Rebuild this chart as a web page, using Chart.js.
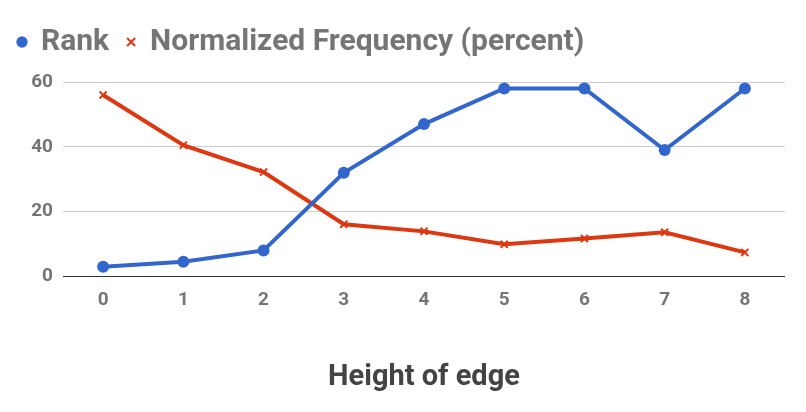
<!DOCTYPE html>
<html lang="en">
<head>
    <meta charset="UTF-8">
    <title>Height of edge</title>
    <style>
        body {
            margin: 0;
            background-color: #fff;
        }
        .chart-container {
            width: 806px;
            height: 412px;
        }
    </style>
    <script src="https://cdn.jsdelivr.net/npm/chart.js"></script>
</head>
<body>
    <div class="chart-container">
        <canvas id="lineChart"></canvas>
    </div>

    <script>
        // Data
        const heights = ['0', '1', '2', '3', '4', '5', '6', '7', '8'];
        const rank = [3, 4.5, 8, 32, 47, 58, 58, 39, 58];
        const normalizedFrequency = [56, 40.5, 32.2, 16.1, 13.9, 9.9, 11.7, 13.6, 7.4];

        const topPad = 9;

        // Make the legend block end exactly where the plot should start
        const legendHeight = {
            id: 'legendHeight',
            beforeInit(chart) {
                const fit = chart.legend.fit;
                chart.legend.fit = function() {
                    fit.bind(chart.legend)();
                    this.height = 82 - topPad;
                };
            }
        };

        const ctx = document.getElementById('lineChart').getContext('2d');

        new Chart(ctx, {
            type: 'line',
            data: {
                labels: heights,
                datasets: [{
                    label: 'Rank',
                    data: rank,
                    borderColor: '#3366cc',
                    backgroundColor: '#3366cc',
                    borderWidth: 4,
                    pointStyle: 'circle',
                    pointRadius: 6,
                    pointBorderWidth: 0
                }, {
                    label: 'Normalized Frequency (percent)',
                    data: normalizedFrequency,
                    borderColor: '#dc3912',
                    backgroundColor: '#dc3912',
                    borderWidth: 4,
                    pointStyle: 'crossRot',
                    pointRadius: 5,
                    pointBorderWidth: 2
                }]
            },
            plugins: [legendHeight],
            options: {
                responsive: true,
                maintainAspectRatio: false,
                animation: false,
                layout: {
                    padding: { left: 0, right: 21, top: topPad, bottom: 17 }
                },
                plugins: {
                    legend: {
                        position: 'top',
                        align: 'start',
                        labels: {
                            usePointStyle: true,
                            boxWidth: 8,
                            boxHeight: 8,
                            padding: 18,
                            color: '#757575',
                            font: { family: 'Roboto', size: 30, weight: 'bold' }
                        }
                    },
                    tooltip: { enabled: false }
                },
                scales: {
                    x: {
                        offset: true,
                        grid: { display: false, drawTicks: false },
                        border: { display: false },
                        ticks: {
                            color: '#757575',
                            padding: 12,
                            font: { family: 'Roboto', size: 19, weight: 'bold' }
                        },
                        title: {
                            display: true,
                            text: 'Height of edge',
                            color: '#444',
                            padding: { top: 37, bottom: 0 },
                            font: { family: 'Roboto', size: 29, weight: 'bold' }
                        }
                    },
                    y: {
                        min: 0,
                        max: 60,
                        afterFit: function(scale) { scale.width = 63; },
                        grid: {
                            drawTicks: false,
                            color: c => c.tick.value === 0 ? '#333' : '#ccc'
                        },
                        border: { display: false },
                        ticks: {
                            stepSize: 20,
                            color: '#757575',
                            padding: 10,
                            font: { family: 'Roboto', size: 19, weight: 'bold' }
                        }
                    }
                }
            }
        });
    </script>
</body>
</html>
